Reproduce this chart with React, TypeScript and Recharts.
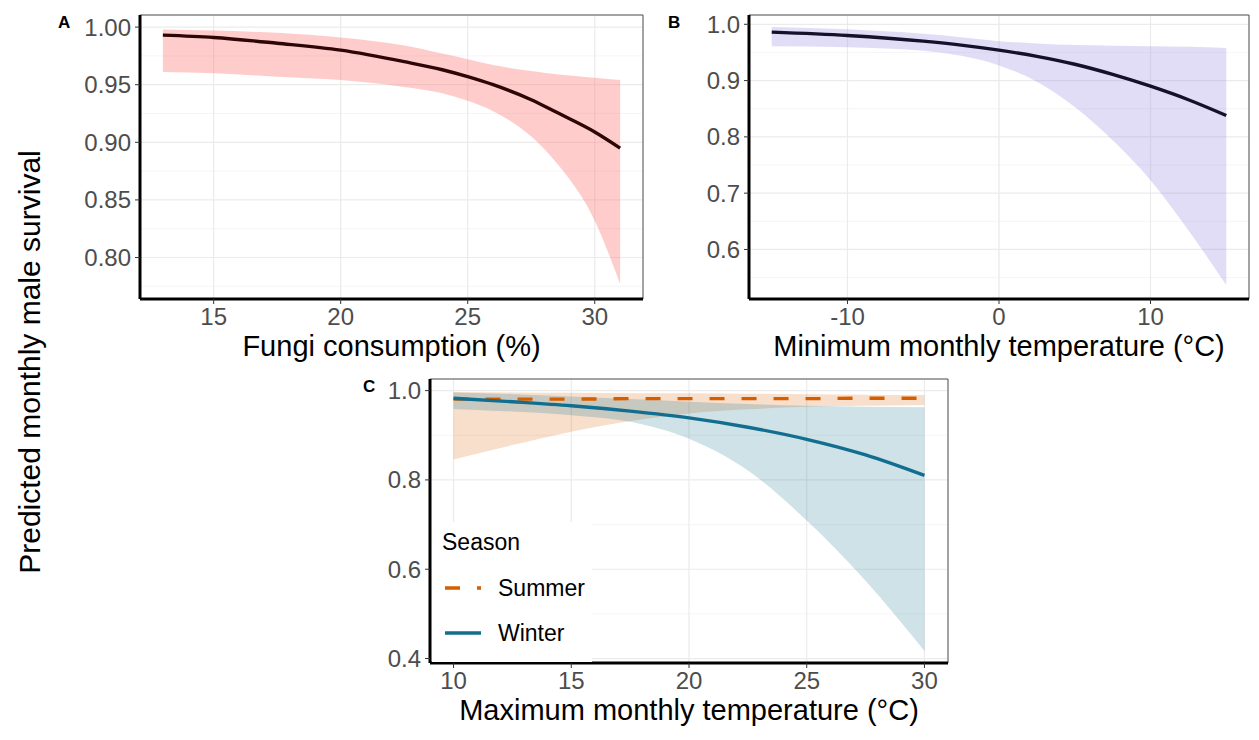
import React from "react";
import {
  ComposedChart,
  Area,
  Line,
  XAxis,
  YAxis,
  CartesianGrid,
  ReferenceArea,
  Legend,
} from "recharts";

// Panel A: fungi consumption (%)
const fungiX = [13, 15, 17.5, 20, 22.5, 24, 25, 26, 27.5, 28.5, 30, 31];
const fungiFit = [0.993, 0.991, 0.986, 0.98, 0.97, 0.963, 0.957, 0.95, 0.937, 0.926, 0.909, 0.895];
const fungiHigh = [0.998, 0.997, 0.995, 0.991, 0.984, 0.977, 0.972, 0.967, 0.962, 0.959, 0.956, 0.954];
const fungiLow = [0.961, 0.96, 0.957, 0.954, 0.948, 0.9425, 0.936, 0.927, 0.905, 0.882, 0.832, 0.777];

// Panel B: minimum monthly temperature
const minTempX = [-15, -10, -5, -2.5, 0, 2.5, 5, 7.5, 10, 12.5, 15];
const minTempFit = [0.986, 0.98, 0.97, 0.963, 0.954, 0.943, 0.929, 0.911, 0.89, 0.866, 0.838];
const minTempHigh = [0.995, 0.991, 0.983, 0.977, 0.97, 0.966, 0.963, 0.962, 0.961, 0.96, 0.958];
const minTempLow = [0.961, 0.959, 0.953, 0.944, 0.927, 0.898, 0.853, 0.794, 0.723, 0.634, 0.537];

// Panel C: maximum monthly temperature by season
const maxTempX = [10, 12.5, 15, 17.5, 20, 22.5, 25, 27.5, 30];
const summerFit = [0.981, 0.981, 0.981, 0.982, 0.982, 0.982, 0.982, 0.983, 0.983];
const summerHigh = [0.997, 0.996, 0.995, 0.994, 0.994, 0.993, 0.992, 0.991, 0.99];
const summerLow = [0.846, 0.878, 0.908, 0.932, 0.949, 0.958, 0.964, 0.966, 0.968];
const winterFit = [0.983, 0.975, 0.966, 0.954, 0.939, 0.918, 0.891, 0.856, 0.81];
const winterHigh = [0.996, 0.992, 0.987, 0.981, 0.975, 0.97, 0.966, 0.964, 0.963];
const winterLow = [0.959, 0.953, 0.945, 0.93, 0.892, 0.821, 0.709, 0.574, 0.417];

const seasons = ["Summer", "Winter"];
const seasonColors = ["#D55E00", "#126E8E"];
const seasonDash = ["15 17", undefined];

const FONT = '"Liberation Sans", Arial, sans-serif';
const tickStyle = { fontSize: 24, fill: "#4D4D4D", fontFamily: FONT };
const titleStyle = { fontSize: 29, fill: "#000", fontFamily: FONT };

const dataA = fungiX.map((x, i) => ({ x, fit: fungiFit[i], band: [fungiLow[i], fungiHigh[i]] }));
const dataB = minTempX.map((x, i) => ({ x, fit: minTempFit[i], band: [minTempLow[i], minTempHigh[i]] }));
const dataC = maxTempX.map((x, i) => ({
  x,
  summer: summerFit[i],
  summerBand: [summerLow[i], summerHigh[i]],
  winter: winterFit[i],
  winterBand: [winterLow[i], winterHigh[i]],
}));

interface FrameProps {
  xDomain: number[];
  yDomain: number[];
  xTicks: number[];
  yTicks: number[];
  xMinor: number[];
  yMinor: number[];
  digits: number;
  xTitle: string;
  xHeight: number;
  titleOffset: number;
}

// axes, grids and border shared by all three panels
const frame = (p: FrameProps) => [
  <XAxis key="xm" xAxisId="minor" type="number" domain={p.xDomain} ticks={p.xMinor} allowDataOverflow hide />,
  <YAxis key="ym" yAxisId="minor" type="number" domain={p.yDomain} ticks={p.yMinor} allowDataOverflow hide />,
  <CartesianGrid key="gm" xAxisId="minor" yAxisId="minor" stroke="#F3F3F3" strokeWidth={0.8} />,
  <CartesianGrid key="g" stroke="#EBEBEB" strokeWidth={1.2} />,
  <XAxis
    key="x"
    dataKey="x"
    type="number"
    domain={p.xDomain}
    ticks={p.xTicks}
    allowDataOverflow
    height={p.xHeight}
    tick={tickStyle}
    tickSize={5}
    tickMargin={4}
    tickLine={{ stroke: "#333" }}
    axisLine={{ stroke: "#000", strokeWidth: 3 }}
    label={{ value: p.xTitle, position: "insideBottom", offset: p.titleOffset, style: titleStyle }}
  />,
  <YAxis
    key="y"
    type="number"
    domain={p.yDomain}
    ticks={p.yTicks}
    allowDataOverflow
    width={60}
    tick={tickStyle}
    tickSize={5}
    tickMargin={4}
    tickLine={{ stroke: "#333" }}
    axisLine={{ stroke: "#000", strokeWidth: 3 }}
    tickFormatter={(v: number) => v.toFixed(p.digits)}
  />,
  <ReferenceArea
    key="border"
    x1={p.xDomain[0]}
    x2={p.xDomain[1]}
    y1={p.yDomain[0]}
    y2={p.yDomain[1]}
    fill="none"
    stroke="#555"
    strokeWidth={1}
    ifOverflow="visible"
  />,
];

const SeasonLegend = () => (
  <div
    style={{
      width: 160,
      height: 140,
      background: "#fff",
      position: "relative",
      fontFamily: FONT,
      fontSize: 23,
      color: "#000",
    }}
  >
    <div style={{ position: "absolute", left: 10, top: 7 }}>Season</div>
    {seasons.map((s, i) => (
      <div key={s} style={{ position: "absolute", left: 0, top: 52 + i * 45, height: 28, width: 160 }}>
        <svg width={60} height={28} style={{ position: "absolute", left: 0, top: 0 }}>
          <line x1={13} x2={49} y1={14} y2={14} stroke={seasonColors[i]} strokeWidth={3.4} strokeDasharray={seasonDash[i]} />
        </svg>
        <span style={{ position: "absolute", left: 66, top: 0, lineHeight: "28px" }}>{s}</span>
      </div>
    ))}
  </div>
);

const letter = (t: string, left: number, top: number) => (
  <div style={{ position: "absolute", left, top, fontFamily: FONT, fontWeight: "bold", fontSize: 17, lineHeight: "17px" }}>{t}</div>
);

export default function App() {
  return (
    <div style={{ position: "absolute", left: 0, top: 0, width: 1259, height: 740, background: "#fff", overflow: "hidden" }}>
      <div style={{ position: "absolute", left: 0, top: 0 }}>
        <ComposedChart width={660} height={372} data={dataA} margin={{ top: 15, right: 17, left: 80, bottom: 0 }}>
          {frame({
            xDomain: [12.1, 31.9],
            yDomain: [0.764, 1.0105],
            xTicks: [15, 20, 25, 30],
            yTicks: [0.8, 0.85, 0.9, 0.95, 1.0],
            xMinor: [12.5, 17.5, 22.5, 27.5],
            yMinor: [0.775, 0.825, 0.875, 0.925, 0.975],
            digits: 2,
            xTitle: "Fungi consumption (%)",
            xHeight: 73,
            titleOffset: 16,
          })}
          <Area dataKey="band" type="monotone" stroke="none" fill="#FF8080" fillOpacity={0.4} isAnimationActive={false} />
          <Line dataKey="fit" type="monotone" stroke="#2E0606" strokeWidth={3.4} dot={false} isAnimationActive={false} />
        </ComposedChart>
      </div>

      <div style={{ position: "absolute", left: 660, top: 0 }}>
        <ComposedChart width={599} height={372} data={dataB} margin={{ top: 15, right: 10, left: 29, bottom: 0 }}>
          {frame({
            xDomain: [-16.5, 16.5],
            yDomain: [0.512, 1.0165],
            xTicks: [-10, 0, 10],
            yTicks: [0.6, 0.7, 0.8, 0.9, 1.0],
            xMinor: [-15, -5, 5, 15],
            yMinor: [0.55, 0.65, 0.75, 0.85, 0.95],
            digits: 1,
            xTitle: "Minimum monthly temperature (°C)",
            xHeight: 73,
            titleOffset: 16,
          })}
          <Area dataKey="band" type="monotone" stroke="none" fill="#9C8FE0" fillOpacity={0.3} isAnimationActive={false} />
          <Line dataKey="fit" type="monotone" stroke="#15112B" strokeWidth={3.4} dot={false} isAnimationActive={false} />
        </ComposedChart>
      </div>

      <div style={{ position: "absolute", left: 360, top: 360 }}>
        <ComposedChart width={620} height={380} data={dataC} margin={{ top: 19, right: 32, left: 10, bottom: 0 }}>
          {frame({
            xDomain: [9, 31],
            yDomain: [0.39, 1.026],
            xTicks: [10, 15, 20, 25, 30],
            yTicks: [0.4, 0.6, 0.8, 1.0],
            xMinor: [12.5, 17.5, 22.5, 27.5],
            yMinor: [0.5, 0.7, 0.9],
            digits: 1,
            xTitle: "Maximum monthly temperature (°C)",
            xHeight: 77,
            titleOffset: 20,
          })}
          <Area dataKey="summerBand" type="monotone" stroke="none" fill={seasonColors[0]} fillOpacity={0.2} isAnimationActive={false} />
          <Area dataKey="winterBand" type="monotone" stroke="none" fill="#0A6E8C" fillOpacity={0.2} isAnimationActive={false} />
          <Line dataKey="summer" name={seasons[0]} type="monotone" stroke={seasonColors[0]} strokeWidth={3.4} strokeDasharray={seasonDash[0]} dot={false} isAnimationActive={false} />
          <Line dataKey="winter" name={seasons[1]} type="monotone" stroke={seasonColors[1]} strokeWidth={3.4} dot={false} isAnimationActive={false} />
          <Legend
            layout="horizontal"
            verticalAlign="middle"
            align="center"
            content={() => <SeasonLegend />}
            wrapperStyle={{ left: 72, top: 162, width: 160, height: 140 }}
          />
        </ComposedChart>
      </div>

      {letter("A", 58, 14)}
      {letter("B", 668, 14)}
      {letter("C", 363, 378)}

      <div
        style={{
          position: "absolute",
          left: 30,
          top: 362,
          transform: "translate(-50%, -50%) rotate(-90deg)",
          whiteSpace: "nowrap",
          fontFamily: FONT,
          fontSize: 30,
          color: "#000",
        }}
      >
        Predicted monthly male survival
      </div>
    </div>
  );
}
